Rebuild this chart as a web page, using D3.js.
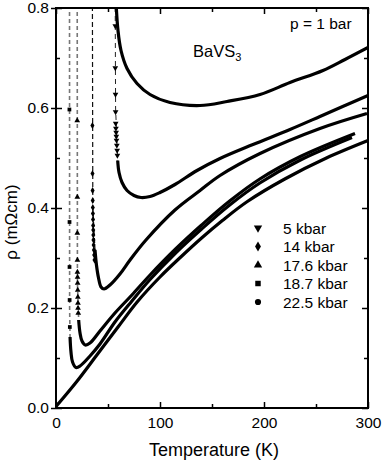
<!DOCTYPE html>
<html>
<head>
<meta charset="utf-8">
<script src="https://cdnjs.cloudflare.com/ajax/libs/d3/7.8.5/d3.min.js"></script>
<style>
body { margin: 0; background: #fff; }
svg text { font-family: "Liberation Sans", Arial, sans-serif; fill: #000; }
</style>
</head>
<body>
<svg id="chart" width="382" height="462"></svg>
<script>
var width = 382;
var height = 462;

// resistivity curves (T in K, rho in mOhm cm)
var temp_1bar = [57.5, 59.6, 62.5, 68.3, 77.9, 90.4, 109.6, 138.5, 164.4, 196.2, 225, 256.7, 277.9, 300];
var rho_1bar  = [0.82, 0.755, 0.715, 0.679, 0.649, 0.627, 0.611, 0.605, 0.613, 0.627, 0.651, 0.675, 0.697, 0.721];

var temp_5kbar = [59.3, 60.6, 63.5, 68.3, 75, 81.7, 90.4, 100, 114.4, 135.6, 157.7, 189.4, 225, 253.8, 277.9, 300];
var rho_5kbar  = [0.495, 0.471, 0.451, 0.435, 0.425, 0.421, 0.423, 0.431, 0.447, 0.475, 0.499, 0.527, 0.557, 0.583, 0.605, 0.625];

var temp_14kbar = [37.5, 38.9, 40.9, 43.3, 46.2, 51.9, 61.5, 71.2, 86.5, 114.4, 138.5, 157.7, 196.2, 253.8, 299];
var rho_14kbar  = [0.316, 0.286, 0.260, 0.242, 0.238, 0.246, 0.268, 0.296, 0.336, 0.396, 0.435, 0.465, 0.509, 0.559, 0.589];

var temp_17kbar = [21.8, 23.1, 25, 28.2, 32.7, 42.3, 56.7, 73, 90, 115, 140, 167, 196, 235, 287.5];
var rho_17kbar  = [0.176, 0.150, 0.134, 0.126, 0.130, 0.154, 0.190, 0.226, 0.265, 0.318, 0.366, 0.414, 0.458, 0.503, 0.549];

var temp_18kbar = [13.5, 14.4, 15.9, 19.2, 23.1, 32.7, 42.3, 56.7, 73, 90, 115, 140, 167, 196, 235, 284.6];
var rho_18kbar  = [0.142, 0.112, 0.092, 0.081, 0.084, 0.104, 0.128, 0.172, 0.214, 0.256, 0.310, 0.358, 0.406, 0.450, 0.496, 0.541];

var temp_22kbar = [0, 20, 40, 60, 78, 100, 120, 140, 160, 184, 220, 260, 300];
var rho_22kbar  = [0.003, 0.053, 0.108, 0.163, 0.212, 0.262, 0.302, 0.340, 0.375, 0.413, 0.458, 0.500, 0.535];

// sparse points above the transitions (dashed guides)
var dash_5kbar_t  = [56.9, 57.3, 59.3];
var dash_5kbar_r  = [0.82, 0.60, 0.495];
var dash_14kbar_t = [35.0, 35.4, 37.5];
var dash_14kbar_r = [0.82, 0.40, 0.316];
var dash_17kbar_t = [20.4, 20.6, 21.8];
var dash_17kbar_r = [0.82, 0.25, 0.176];
var dash_18kbar_t = [13.0, 13.1, 13.5];
var dash_18kbar_r = [0.82, 0.20, 0.142];

var mark_5kbar_t  = [57.0, 57.0, 57.2, 57.3, 57.4, 57.6, 57.8, 58.0, 58.2, 58.5, 58.8, 59.0];
var mark_5kbar_r  = [0.764, 0.680, 0.627, 0.592, 0.569, 0.559, 0.551, 0.543, 0.535, 0.525, 0.515, 0.505];
var mark_14kbar_t = [35.0, 35.1, 35.2, 35.3, 35.4, 35.5, 35.6, 35.7, 35.8, 35.9, 36.0, 36.2, 36.4, 36.7, 37.0];
var mark_14kbar_r = [0.565, 0.469, 0.435, 0.415, 0.401, 0.389, 0.377, 0.365, 0.356, 0.346, 0.336, 0.326, 0.316, 0.306, 0.296];
var mark_17kbar_t = [20.4, 20.5, 20.5, 20.6, 20.6, 20.7, 20.8, 20.9, 21.0, 21.1, 21.2, 21.4];
var mark_17kbar_r = [0.575, 0.422, 0.350, 0.296, 0.272, 0.262, 0.250, 0.236, 0.222, 0.210, 0.200, 0.190];
var mark_18kbar_t = [12.9, 13.0, 13.0, 13.1, 13.3];
var mark_18kbar_r = [0.597, 0.372, 0.282, 0.216, 0.162];

var legend_labels = ["5 kbar", "14 kbar", "17.6 kbar", "18.7 kbar", "22.5 kbar"];
var y_ticks = [0, 0.2, 0.4, 0.6, 0.8];
var y_minor = [0.1, 0.3, 0.5, 0.7];
var x_ticks = [0, 100, 200, 300];
var x_minor = [50, 150, 250];

var x = d3.scaleLinear().domain([0, 300]).range([56, 368]);
var y = d3.scaleLinear().domain([0, 0.8]).range([408, 8]);

var svg = d3.select('#chart');

svg.append('defs').append('clipPath').attr('id', 'plotclip')
  .append('rect')
  .attr('x', x(0)).attr('y', y(0.8))
  .attr('width', x(300) - x(0)).attr('height', y(0) - y(0.8));

function zip(t, r) {
  return t.map(function(d, i) { return [d, r[i]]; });
}

var line = d3.line()
  .x(function(d) { return x(d[0]); })
  .y(function(d) { return y(d[1]); })
  .curve(d3.curveCatmullRom.alpha(0.5));

var plot = svg.append('g').attr('clip-path', 'url(#plotclip)');

//dashed guides
var dashes = [
  {t: dash_5kbar_t, r: dash_5kbar_r, c: '#222', w: 1, a: '5,4'},
  {t: dash_14kbar_t, r: dash_14kbar_r, c: '#111', w: 1.2, a: '5,3'},
  {t: dash_17kbar_t, r: dash_17kbar_r, c: '#777', w: 1.6, a: '4,3'},
  {t: dash_18kbar_t, r: dash_18kbar_r, c: '#777', w: 1.6, a: '4,3'}
];
dashes.forEach(function(s) {
  plot.append('path')
    .attr('d', d3.line().x(function(d) { return x(d[0]); }).y(function(d) { return y(d[1]); })(zip(s.t, s.r)))
    .style('fill', 'none').style('stroke', s.c)
    .style('stroke-width', s.w).style('stroke-dasharray', s.a);
});

//main curves
var curves = [
  zip(temp_1bar, rho_1bar),
  zip(temp_5kbar, rho_5kbar),
  zip(temp_14kbar, rho_14kbar),
  zip(temp_17kbar, rho_17kbar),
  zip(temp_18kbar, rho_18kbar),
  zip(temp_22kbar, rho_22kbar)
];
plot.selectAll('path.curve')
  .data(curves)
  .enter()
  .append('path')
  .attr('class', 'curve')
  .attr('d', line)
  .style('fill', 'none').style('stroke', '#000')
  .style('stroke-width', 3.2).style('stroke-linejoin', 'round');

//symbols
var symTypes = [
  {type: d3.symbolTriangle, rot: 180},
  {type: d3.symbolDiamond, rot: 0},
  {type: d3.symbolTriangle, rot: 0},
  {type: d3.symbolSquare, rot: 0},
  {type: d3.symbolCircle, rot: 0}
];
var markSets = [
  zip(mark_5kbar_t, mark_5kbar_r),
  zip(mark_14kbar_t, mark_14kbar_r),
  zip(mark_17kbar_t, mark_17kbar_r),
  zip(mark_18kbar_t, mark_18kbar_r)
];
markSets.forEach(function(pts, k) {
  plot.selectAll('path.m' + k)
    .data(pts)
    .enter()
    .append('path')
    .attr('class', 'm' + k)
    .attr('d', d3.symbol().type(symTypes[k].type).size(14))
    .attr('transform', function(d) {
      return 'translate(' + x(d[0]) + ',' + y(d[1]) + ') rotate(' + symTypes[k].rot + ')';
    })
    .style('fill', '#000');
});

//axes
function styleAxis(g) {
  g.select('.domain').remove();
  g.selectAll('line').style('stroke', '#000').style('stroke-width', 1.5);
  g.selectAll('text').style('font-size', '15.5px').style('font-family', '"Liberation Sans", Arial, sans-serif');
}

svg.append('g').attr('transform', 'translate(' + x(0) + ',0)')
  .call(d3.axisLeft(y).tickValues(y_ticks).tickSize(5).tickPadding(2).tickFormat(d3.format('.1f')))
  .call(styleAxis);
svg.append('g').attr('transform', 'translate(' + x(0) + ',0)')
  .call(d3.axisRight(y).tickValues(y_ticks).tickSize(6).tickFormat(''))
  .call(styleAxis);
svg.append('g').attr('transform', 'translate(' + x(0) + ',0)')
  .call(d3.axisRight(y).tickValues(y_minor).tickSize(4).tickFormat(''))
  .call(styleAxis);
svg.append('g').attr('transform', 'translate(' + x(300) + ',0)')
  .call(d3.axisLeft(y).tickValues(y_ticks).tickSize(6).tickFormat(''))
  .call(styleAxis);
svg.append('g').attr('transform', 'translate(' + x(300) + ',0)')
  .call(d3.axisLeft(y).tickValues(y_minor).tickSize(4).tickFormat(''))
  .call(styleAxis);

svg.append('g').attr('transform', 'translate(0,' + y(0) + ')')
  .call(d3.axisTop(x).tickValues(x_ticks).tickSize(6).tickFormat(''))
  .call(styleAxis);
svg.append('g').attr('transform', 'translate(0,' + y(0) + ')')
  .call(d3.axisTop(x).tickValues(x_minor).tickSize(4).tickFormat(''))
  .call(styleAxis);
svg.append('g').attr('transform', 'translate(0,' + y(0) + ')')
  .call(d3.axisBottom(x).tickValues(x_ticks).tickSize(0).tickPadding(9).tickFormat(d3.format('d')))
  .call(styleAxis);
svg.append('g').attr('transform', 'translate(0,' + y(0.8) + ')')
  .call(d3.axisBottom(x).tickValues(x_ticks).tickSize(6).tickFormat(''))
  .call(styleAxis);
svg.append('g').attr('transform', 'translate(0,' + y(0.8) + ')')
  .call(d3.axisBottom(x).tickValues(x_minor).tickSize(4).tickFormat(''))
  .call(styleAxis);

//frame
svg.append('rect')
  .attr('x', x(0)).attr('y', y(0.8))
  .attr('width', x(300) - x(0)).attr('height', y(0) - y(0.8))
  .style('fill', 'none').style('stroke', '#000').style('stroke-width', 2);

//axis titles
svg.append('text')
  .attr('x', 214).attr('y', 456)
  .attr('text-anchor', 'middle')
  .style('font-size', '18px')
  .text('Temperature (K)');

svg.append('text')
  .attr('transform', 'translate(17,222) rotate(-90)')
  .attr('text-anchor', 'middle')
  .style('font-size', '17px')
  .text('ρ (mΩcm)');

//annotations
svg.append('text')
  .attr('x', 290).attr('y', 28.5)
  .style('font-size', '15.5px')
  .text('p = 1 bar');

var bav = svg.append('text')
  .attr('x', 193).attr('y', 56.5)
  .style('font-size', '16.5px');
bav.append('tspan').text('BaVS');
bav.append('tspan').attr('dy', 4).style('font-size', '11px').text('3');

//legend
var legend = svg.append('g');
legend_labels.forEach(function(lab, i) {
  var cy = 228 + i * 18.5;
  legend.append('path')
    .attr('d', d3.symbol().type(symTypes[i].type).size(30))
    .attr('transform', 'translate(258,' + cy + ') rotate(' + symTypes[i].rot + ')')
    .style('fill', '#000');
  legend.append('text')
    .attr('x', 283).attr('y', cy + 5.5)
    .style('font-size', '15.5px')
    .text(lab);
});
</script>
</body>
</html>
